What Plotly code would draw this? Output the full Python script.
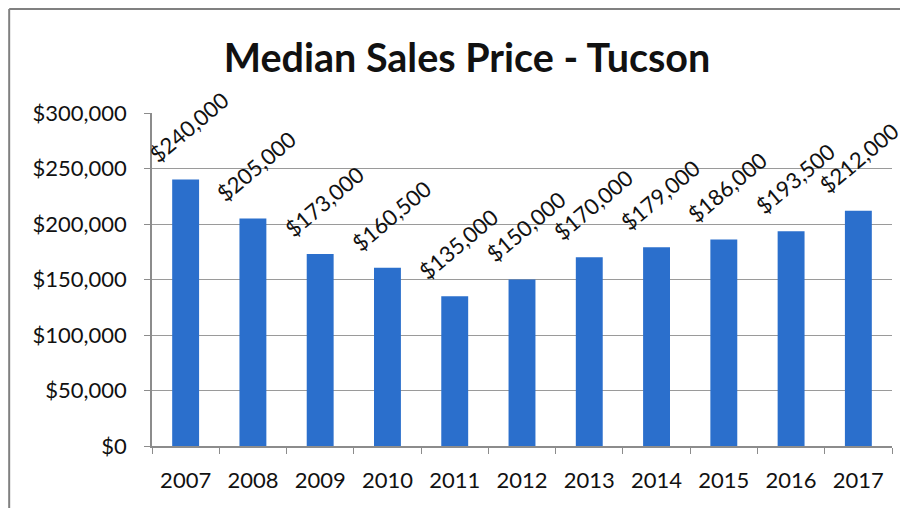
import plotly.graph_objects as go

# données
years = ["2007", "2008", "2009", "2010", "2011", "2012", "2013", "2014", "2015", "2016", "2017"]
prices = [240000, 205000, 173000, 160500, 135000, 150000, 170000, 179000, 186000, 193500, 212000]
y_ticks = [0, 50000, 100000, 150000, 200000, 250000, 300000]
y_ticktext = ["$0", "$50,000", "$100,000", "$150,000", "$200,000", "$250,000", "$300,000"]

FONT = "Lato"
BAR = "#2b6fcc"

fig = go.Figure()
fig.add_trace(go.Bar(x=years, y=prices, marker_color=BAR, marker_line_width=0))

# étiquettes de valeurs inclinées (x = index de catégorie)
for i, p in enumerate(prices):
    fig.add_annotation(
        x=i, y=p, text="${:,.0f}".format(p), showarrow=False,
        textangle=-40, xanchor="center", yanchor="bottom",
        xshift=1 if i == len(prices) - 1 else 4, yshift=9,
        font=dict(family=FONT, size=22, color="#111111"),
    )

# bord du cadre (haut et gauche seulement, comme le scan)
fig.add_shape(type="line", xref="paper", yref="paper",
              x0=-0.193, x1=-0.193, y0=-0.2, y1=1.312,
              line=dict(color="#808080", width=2))
fig.add_shape(type="line", xref="paper", yref="paper",
              x0=-0.193, x1=1.03, y0=1.312, y1=1.312,
              line=dict(color="#808080", width=2))

fig.update_layout(
    width=900, height=500,
    margin=dict(l=144, r=16, t=105, b=62, autoexpand=False),
    paper_bgcolor="white", plot_bgcolor="white",
    bargap=0.6,
    showlegend=False,
    title=dict(text="<b>Median Sales Price - Tucson</b>", x=0.51, xanchor="center",
               y=0.9, yanchor="middle",
               font=dict(family=FONT, size=39.5, color="#111111")),
    font=dict(family=FONT, size=22, color="#111111"),
)
fig.update_xaxes(
    type="category", automargin=False, tickangle=0, range=[-0.5, 10.5],
    showline=True, linecolor="#8c8c8c", linewidth=1.5,
    ticks="outside", tickson="boundaries", ticklen=6, tickcolor="#8c8c8c",
    ticklabelstandoff=14,
    tickfont=dict(family=FONT, size=22, color="#111111"),
)
fig.update_yaxes(
    range=[0, 300000], tickvals=y_ticks, ticktext=y_ticktext, automargin=False,
    showgrid=True, gridcolor="#9a9a9a", gridwidth=1.2,
    showline=True, linecolor="#8c8c8c", linewidth=1.5,
    ticks="outside", ticklen=6, tickcolor="#8c8c8c",
    ticklabelstandoff=13, zeroline=False,
    tickfont=dict(family=FONT, size=22, color="#111111"),
)

fig.write_html("out.html")
